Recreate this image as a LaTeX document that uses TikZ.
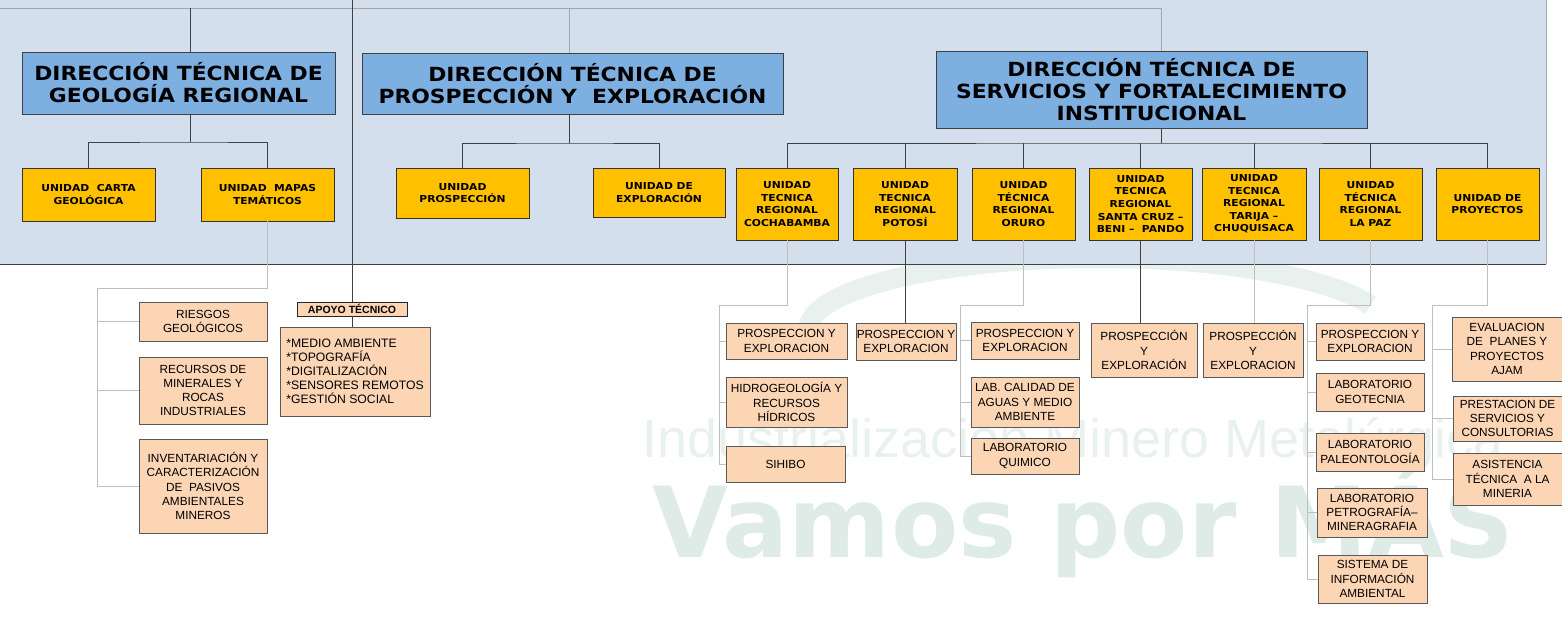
\documentclass[tikz,border=0pt]{standalone}
\usepackage{fontspec}
\setmainfont{Liberation Sans}
\newfontfamily\dtfont[FakeStretch=1.12]{DejaVu Sans}
\newfontfamily\wmfont{DejaVu Sans}
\definecolor{bgblue}{RGB}{211,223,236}
\definecolor{dtblue}{RGB}{125,175,225}
\definecolor{gold}{RGB}{255,192,0}
\definecolor{peach}{RGB}{252,213,181}
\definecolor{wmdark}{RGB}{222,235,230}
\definecolor{wmlite}{RGB}{233,241,238}

\begin{document}
\begin{tikzpicture}[x=1pt, y=-1pt,
  dtbox/.style={draw=black!75, line width=0.9pt, fill=dtblue, align=center, inner sep=0pt,
    font=\dtfont\bfseries\fontsize{19.5}{22}\selectfont},
  ubox/.style={draw=black!80, line width=0.9pt, fill=gold, align=center, inner sep=0pt,
    font=\dtfont\bfseries\fontsize{9.6}{12.6}\selectfont},
  sbox/.style={draw=black!65, line width=0.8pt, fill=peach, align=center, inner sep=0pt,
    font=\fontsize{11.8}{14.2}\selectfont},
  dark/.style={draw=black!75, line width=0.9pt},
  lite/.style={draw=black!25, line width=0.9pt},
  pale/.style={draw=black!35, line width=0.9pt}]
  \useasboundingbox (0,0) rectangle (1562,620);

  % Watermark
  \draw[wmlite, line width=20pt] (808,330) arc[start angle=180, end angle=340, x radius=290, y radius=72];
  \node[anchor=base west, inner sep=0pt, text=wmlite, font=\fontsize{54}{54}\selectfont] (wm1) at (642,457) {Industrialización Minero Metalúrgica};
  \node[anchor=base west, inner sep=0pt, text=wmdark, font=\wmfont\bfseries\fontsize{98}{98}\selectfont] (wm2) at (652,557) {Vamos por MÁS};

  % Background
  \fill[bgblue] (0,0) rectangle (1546,264);
  \draw[dark] (0,264) -- (1546,264);
  \draw[pale] (1546,264) -- (1546,0);

  % Geologia Regional
  \node[dtbox, minimum width=313pt, minimum height=62pt] (geo) at (178.5,83) {DIRECCIÓN TÉCNICA DE\\GEOLOGÍA REGIONAL};
  \node[ubox, minimum width=133pt, minimum height=53pt] (carta) at (88.5,194.5) {UNIDAD\ \ CARTA\\GEOLÓGICA};
  \node[ubox, minimum width=133pt, minimum height=53pt] (mapas) at (267.5,194.5) {UNIDAD\ \ MAPAS\\TEMÁTICOS};
  \node[sbox, minimum width=128pt, minimum height=39pt] (riesgos) at (203,321.5) {RIESGOS\\GEOLÓGICOS};
  \node[sbox, minimum width=128pt, minimum height=67pt] (recursos) at (203,390.5) {RECURSOS DE\\MINERALES Y\\ROCAS\\INDUSTRIALES};
  \node[sbox, minimum width=128pt, minimum height=94pt] (invent) at (203,486) {INVENTARIACIÓN Y\\CARACTERIZACIÓN\\DE\ \ PASIVOS\\AMBIENTALES\\MINEROS};

  \coordinate (tl) at (0,8);
  \coordinate (gj) at (190,142);
  \coordinate (gb) at (97,288);
  \draw[pale] (tl) -- (1161,8);
  \draw[dark] (gj |- tl) -- (gj |- geo.north);
  \draw[dark] (gj |- geo.south) -- (gj);
  \draw[dark] (carta.north) |- (gj) -| (mapas.north);
  \draw[lite] (mapas.south) |- (gb) |- (invent.west);
  \foreach \b in {riesgos,recursos} \draw[lite] (gb |- \b.west) -- (\b.west);

  % Apoyo tecnico
  \node[sbox, draw=black!85, minimum width=110pt, minimum height=14pt, font=\bfseries\fontsize{10.5}{12}\selectfont] (apoyo) at (352,309) {APOYO TÉCNICO};
  \node[sbox, align=left, minimum width=150pt, minimum height=89pt, font=\fontsize{12.2}{14}\selectfont] (alist) at (355,371.5) {*MEDIO AMBIENTE\\*TOPOGRAFÍA\\*DIGITALIZACIÓN\\*SENSORES REMOTOS\\*GESTIÓN SOCIAL};
  \coordinate (av) at (352,0);
  \draw[dark] (av) -- (apoyo.north);
  \draw[dark] (apoyo.south) -- (apoyo.south |- alist.north);

  % Prospeccion y Exploracion
  \node[dtbox, minimum width=421pt, minimum height=61pt] (pro) at (572.5,83.5) {DIRECCIÓN TÉCNICA DE\\PROSPECCIÓN Y\ \ EXPLORACIÓN};
  \node[ubox, minimum width=133pt, minimum height=50pt] (uprosp) at (462.5,193) {UNIDAD\\PROSPECCIÓN};
  \node[ubox, minimum width=132pt, minimum height=49pt] (uexpl) at (659,192.5) {UNIDAD DE\\EXPLORACIÓN};
  \coordinate (pt) at (569,8);
  \coordinate (pj) at (569,143);
  \draw[pale] (pt) -- (pt |- pro.north);
  \draw[dark] (pj |- pro.south) -- (pj);
  \draw[dark] (uprosp.north) |- (pj) -| (uexpl.north);

  % Servicios y Fortalecimiento
  \node[dtbox, minimum width=431pt, minimum height=77pt] (ser) at (1151.5,89.5) {DIRECCIÓN TÉCNICA DE\\SERVICIOS Y FORTALECIMIENTO\\INSTITUCIONAL};
  \node[ubox, minimum width=102pt, minimum height=72pt] (cocha) at (787,204) {UNIDAD\\TECNICA\\REGIONAL\\COCHABAMBA};
  \node[ubox, minimum width=104pt, minimum height=72pt] (potosi) at (905,204) {UNIDAD\\TECNICA\\REGIONAL\\POTOSÍ};
  \node[ubox, minimum width=103pt, minimum height=72pt] (oruro) at (1023.5,204) {UNIDAD\\TÉCNICA\\REGIONAL\\ORURO};
  \node[ubox, minimum width=103pt, minimum height=72pt] (scruz) at (1140.5,204) {UNIDAD\\TECNICA\\REGIONAL\\SANTA CRUZ –\\BENI –\ \ PANDO};
  \node[ubox, minimum width=104pt, minimum height=72pt] (tarija) at (1254,204) {UNIDAD\\TECNICA\\REGIONAL\\TARIJA –\\CHUQUISACA};
  \node[ubox, minimum width=103pt, minimum height=72pt] (lapaz) at (1370.5,204) {UNIDAD\\TÉCNICA\\REGIONAL\\LA PAZ};
  \node[ubox, minimum width=103pt, minimum height=72pt] (proy) at (1487.5,204) {UNIDAD DE\\PROYECTOS};
  \coordinate (tr) at (1161,8);
  \coordinate (sj) at (1161,143);
  \draw[pale] (tr) -- (tr |- ser.north);
  \draw[dark] (sj |- ser.south) -- (sj);
  \draw[dark] (cocha.north) |- (sj) -| (proy.north);
  \foreach \u in {potosi,oruro,scruz,tarija,lapaz} \draw[dark] (\u.north) -- (\u.north |- sj);

  % Cochabamba
  \node[sbox, minimum width=121pt, minimum height=36pt] (cb1) at (786.5,341) {PROSPECCION Y\\EXPLORACION};
  \node[sbox, minimum width=121pt, minimum height=50pt] (cb2) at (786.5,402) {HIDROGEOLOGÍA Y\\RECURSOS\\HÍDRICOS};
  \node[sbox, minimum width=119pt, minimum height=36pt] (cb3) at (785.5,464) {SIHIBO};
  \coordinate (cbk) at (719,305);
  \draw[lite] (cocha.south) |- (cbk) |- (cb3.west);
  \foreach \b in {cb1,cb2} \draw[lite] (cbk |- \b.west) -- (\b.west);

  % Potosi
  \node[sbox, minimum width=100pt, minimum height=37pt] (pt1) at (906,341.5) {PROSPECCION Y\\EXPLORACION};
  \draw[dark] (potosi.south) -- (potosi.south |- pt1.north);

  % Oruro
  \node[sbox, minimum width=108pt, minimum height=37pt] (or1) at (1025,340.5) {PROSPECCION Y\\EXPLORACION};
  \node[sbox, minimum width=108pt, minimum height=50pt] (or2) at (1025,402) {LAB. CALIDAD DE\\AGUAS Y MEDIO\\AMBIENTE};
  \node[sbox, minimum width=108pt, minimum height=36pt] (or3) at (1025,456) {LABORATORIO\\QUIMICO};
  \coordinate (obk) at (960,305);
  \draw[lite] (oruro.south) |- (obk) |- (or3.west);
  \foreach \b in {or1,or2} \draw[lite] (obk |- \b.west) -- (\b.west);

  % Santa Cruz and Tarija
  \node[sbox, minimum width=106pt, minimum height=54pt] (sc1) at (1144,350) {PROSPECCIÓN\\Y\\EXPLORACIÓN};
  \node[sbox, minimum width=100pt, minimum height=54pt] (tj1) at (1253,350) {PROSPECCIÓN\\Y\\EXPLORACION};
  \draw[dark] (scruz.south) -- (scruz.south |- sc1.north);
  \draw[lite] (tarija.south) -- (tarija.south |- tj1.north);

  % La Paz
  \node[sbox, minimum width=108pt, minimum height=37pt] (lp1) at (1370,341.5) {PROSPECCION Y\\EXPLORACION};
  \node[sbox, minimum width=108pt, minimum height=38pt] (lp2) at (1370,392) {LABORATORIO\\GEOTECNIA};
  \node[sbox, minimum width=108pt, minimum height=38pt] (lp3) at (1370,452) {LABORATORIO\\PALEONTOLOGÍA};
  \node[sbox, minimum width=110pt, minimum height=49pt] (lp4) at (1372,512.5) {LABORATORIO\\PETROGRAFÍA–\\MINERAGRAFIA};
  \node[sbox, minimum width=109pt, minimum height=48pt] (lp5) at (1372.5,579) {SISTEMA DE\\INFORMACIÓN\\AMBIENTAL};
  \coordinate (lbk) at (1307,305);
  \draw[lite] (lapaz.south) |- (lbk) |- (lp5.west);
  \foreach \b in {lp1,lp2,lp3,lp4} \draw[lite] (lbk |- \b.west) -- (\b.west);

  % Proyectos
  \node[sbox, minimum width=110pt, minimum height=64pt] (py1) at (1507,349) {EVALUACION\\DE\ \ PLANES Y\\PROYECTOS\\AJAM};
  \node[sbox, minimum width=109pt, minimum height=45pt] (py2) at (1507.5,418.5) {PRESTACION DE\\SERVICIOS Y\\CONSULTORIAS};
  \node[sbox, minimum width=109pt, minimum height=52pt] (py3) at (1507.5,479) {ASISTENCIA\\TÉCNICA\ \ A LA\\MINERIA};
  \coordinate (ybk) at (1432,305);
  \draw[lite] (proy.south) |- (ybk) |- (py3.west);
  \foreach \b in {py1,py2} \draw[lite] (ybk |- \b.west) -- (\b.west);
\end{tikzpicture}
\end{document}
